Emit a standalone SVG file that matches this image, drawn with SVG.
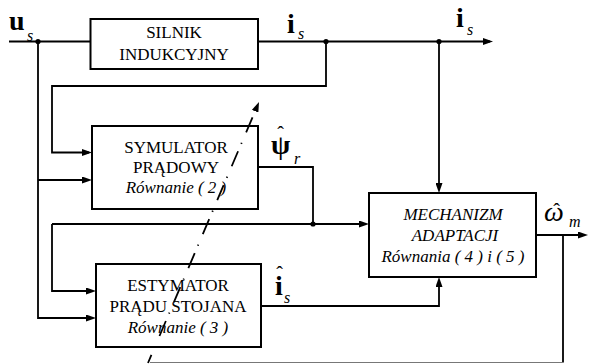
<svg xmlns="http://www.w3.org/2000/svg" width="589" height="364" viewBox="0 0 589 364">
<style>
.box{fill:#fff;stroke:#000;stroke-width:2}
.ln{fill:none;stroke:#000;stroke-width:1.8}
text{font-family:'Liberation Serif','DejaVu Serif',serif;fill:#000}
.t{font-size:17px;text-anchor:middle}
.it{font-style:italic}
.big{font-weight:bold;font-size:28px}
.sub{font-style:italic;font-size:16px;font-weight:normal}
.hat{font-size:20px;font-weight:normal;font-style:normal;text-anchor:middle}
</style>
<defs>
<marker id="ar" viewBox="0 0 10 7" refX="7" refY="3.5" markerWidth="10" markerHeight="7" markerUnits="userSpaceOnUse" orient="auto">
<path d="M0,0 L10,3.5 L0,7 z" fill="#000"/>
</marker>
<marker id="ar2" viewBox="0 0 10 7" refX="0" refY="3.5" markerWidth="10" markerHeight="7" markerUnits="userSpaceOnUse" orient="auto-start-reverse">
<path d="M0,0 L10,3.5 L0,7 z" fill="#000"/>
</marker>
</defs>
<g id="silnik">
<rect class="box" x="90.5" y="19" width="167.5" height="50"/>
<text class="t" x="174" y="38">SILNIK</text>
<text class="t" x="174" y="60">INDUKCYJNY</text>
</g>
<g id="symulator">
<rect class="box" x="92" y="126" width="166" height="83"/>
<text class="t" x="176" y="153">SYMULATOR</text>
<text class="t" x="176" y="173">PRĄDOWY</text>
<text class="t it" x="176" y="193">Równanie ( 2 )</text>
</g>
<g id="estymator">
<rect class="box" x="96" y="264" width="165" height="83"/>
<text class="t" x="178" y="291">ESTYMATOR</text>
<text class="t" x="178" y="312">PRĄDU STOJANA</text>
<text class="t it" x="178" y="333">Równanie ( 3 )</text>
</g>
<g id="mechanizm">
<rect class="box" x="369" y="193" width="167" height="84"/>
<text class="t it" x="453" y="220">MECHANIZM</text>
<text class="t it" x="455" y="241">ADAPTACJI</text>
<text class="t it" x="453" y="262">Równania ( 4 ) i ( 5 )</text>
</g>
<g id="connectors">
<path class="ln" d="M9,41.5 H90"/>
<path class="ln" d="M258,41.5 H490" marker-end="url(#ar)"/>
<path class="ln" d="M326,41.5 V86 H52 V152.5 H89" marker-end="url(#ar)"/>
<path class="ln" d="M38,41.5 V318 H93" marker-end="url(#ar)"/>
<path class="ln" d="M38,180 H89" marker-end="url(#ar)"/>
<path class="ln" d="M258,167 H313 V224"/>
<path class="ln" d="M52,224 H366" marker-end="url(#ar)"/>
<path class="ln" d="M52,224 V291 H93" marker-end="url(#ar)"/>
<path class="ln" d="M439,41.5 V190" marker-end="url(#ar)"/>
<path class="ln" d="M261,306 H439 V280" marker-end="url(#ar)"/>
<path class="ln" d="M536,235 H585" marker-end="url(#ar)"/>
<path class="ln" d="M563,235 V362.5"/>
<path fill="none" stroke="#777" stroke-width="1" d="M563,362.5 H150"/>
<circle cx="38" cy="41.5" r="2.6"/>
<circle cx="326" cy="41.5" r="2.6"/>
<circle cx="439" cy="41.5" r="2.6"/>
<circle cx="313" cy="224" r="2.6"/>
<path fill="none" stroke="#000" stroke-width="1.8" stroke-dasharray="16.3 11.4 1.2 8" stroke-dashoffset="30.3" d="M255.1,111.2 L148,363" marker-start="url(#ar2)"/>
</g>
<g id="labels">
<text class="big" x="9" y="30">u<tspan class="sub" x="27" y="41">s</tspan></text>
<text class="big" x="287" y="33">i<tspan class="sub" x="298" y="39">s</tspan></text>
<text class="big" x="456" y="27">i<tspan class="sub" x="467" y="35">s</tspan></text>
<text class="big" x="271" y="154">ψ<tspan class="hat" x="280.5" y="141">ˆ</tspan><tspan class="sub" x="294" y="164">r</tspan></text>
<text class="big" x="275" y="295">i<tspan class="hat" x="279.5" y="281">ˆ</tspan><tspan class="sub" x="284" y="303">s</tspan></text>
<text class="it" style="font-size:28px" x="544" y="221">ω<tspan class="hat" x="556.5" y="218">ˆ</tspan><tspan class="sub" x="569" y="227">m</tspan></text>
</g>
</svg>
